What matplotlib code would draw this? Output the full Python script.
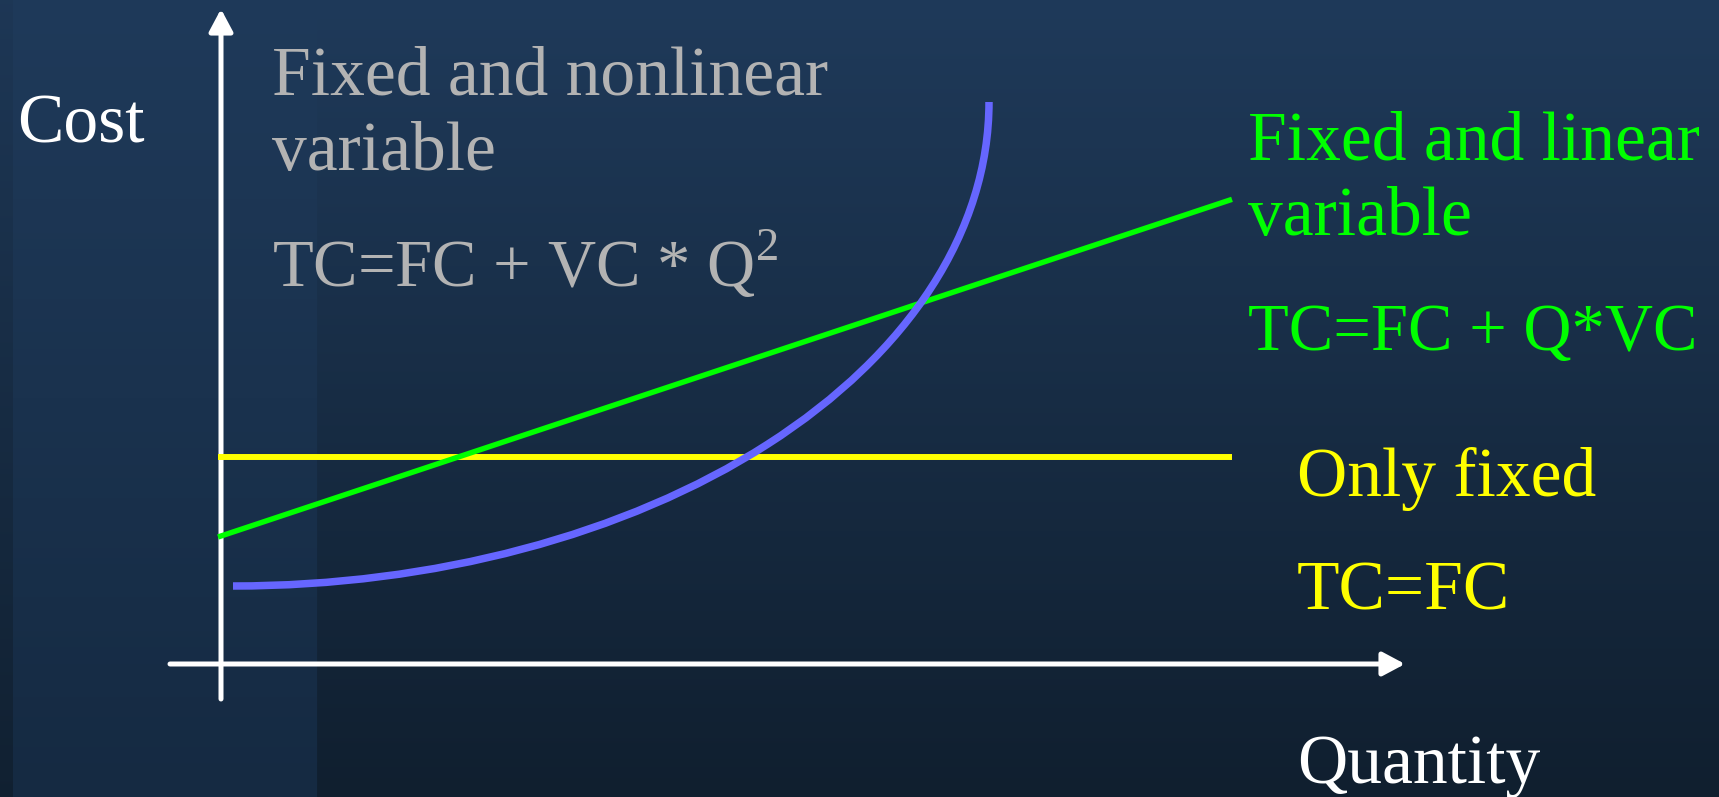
import numpy as np
import matplotlib

matplotlib.use("Agg")
import matplotlib.pyplot as plt
from matplotlib.patches import Arc, FancyArrowPatch

plt.rcParams["mathtext.fontset"] = "custom"
plt.rcParams["mathtext.rm"] = "Liberation Serif"

# cost curves, abstract units (quantity on x, cost on y)
FIXED_COST = 2.07
Q_END = 10.11

LINEAR_FC = 1.27
LINEAR_VC = 0.333

# nonlinear total cost: quarter arc, flat at the start, vertical at the end
NONLIN_START = (0.12, 0.78)
NONLIN_END = (7.68, 5.62)

BG_TOP = np.array([31, 58, 90]) / 255
BG_BOTTOM = np.array([16, 31, 47]) / 255
BAND_BOTTOM = np.array([21, 42, 66]) / 255

GRAY = "#b3b3b3"
GREEN = "#00ff00"
YELLOW = "#ffff00"
BLUE = "#6666ff"

W, H = 1719, 797
fig = plt.figure(figsize=(W / 100, H / 100), dpi=100)

# background: vertical gradient with a slightly lighter band on the left
bg = fig.add_axes([0, 0, 1, 1])
bg.set_axis_off()
t = np.linspace(0, 1, H)[:, None, None]
img = np.repeat(BG_TOP + (BG_BOTTOM - BG_TOP) * t, W, axis=1)
band = BG_TOP + (BAND_BOTTOM - BG_TOP) * t
img[:, 13:317, :] = band[:, 0, :][:, None, :]
strip = BG_TOP * 0.95 + (BG_BOTTOM * 1.05 - BG_TOP * 0.95) * t
img[:, :13, :] = strip[:, 0, :][:, None, :]
bg.imshow(img, aspect="auto", extent=[0, 1, 0, 1])
bg.set_xlim(0, 1)
bg.set_ylim(0, 1)

ax = fig.add_axes([0, 0, 1, 1])
ax.set_xlim(-2.21, 14.98)
ax.set_ylim(-1.33, 6.64)
ax.set_axis_off()
ax.patch.set_alpha(0)

# axes with arrows
for start, end in [((0, -0.35), (0, 6.55)), ((-0.51, 0), (11.84, 0))]:
    ax.add_patch(FancyArrowPatch(start, end, arrowstyle="-|>,head_length=0.75,head_width=0.4",
                                 mutation_scale=18, lw=3.6, color="white",
                                 shrinkA=0, shrinkB=0, zorder=2))

q = np.array([-0.03, Q_END])
ax.plot(q, [FIXED_COST, FIXED_COST], color=YELLOW, lw=4.3, solid_capstyle="butt", zorder=3)
ax.plot(q, LINEAR_FC + LINEAR_VC * (q + 0.03), color=GREEN, lw=3.9,
        solid_capstyle="butt", zorder=3)

(x0, y0), (x1, y1) = NONLIN_START, NONLIN_END
ax.add_patch(Arc((x0, y1), 2 * (x1 - x0), 2 * (y1 - y0), theta1=270, theta2=360,
                 color=BLUE, lw=5.4, capstyle="butt", zorder=4))

font = dict(family="Liberation Serif", fontsize=50, va="baseline", ha="left")
eq = dict(font, fontsize=48)
ax.text(-2.04, 5.21, "Cost", color="white", **font)
ax.text(10.76, -1.19, "Quantity", color="white", **font)

ax.text(0.51, 5.69, "Fixed and nonlinear", color=GRAY, **font)
ax.text(0.51, 4.94, "variable", color=GRAY, **font)
ax.text(0.51, 3.77, r"TC=FC + VC * Q$^2$", color=GRAY, **eq)

ax.text(10.27, 5.05, "Fixed and linear", color=GREEN, **font)
ax.text(10.27, 4.29, "variable", color=GREEN, **font)
ax.text(10.27, 3.14, "TC=FC + Q*VC", color=GREEN, **eq)

ax.text(10.76, 1.68, "Only fixed", color=YELLOW, **font)
ax.text(10.76, 0.54, "TC=FC", color=YELLOW, **font)

fig.savefig("out.png", dpi=100)
plt.close(fig)
